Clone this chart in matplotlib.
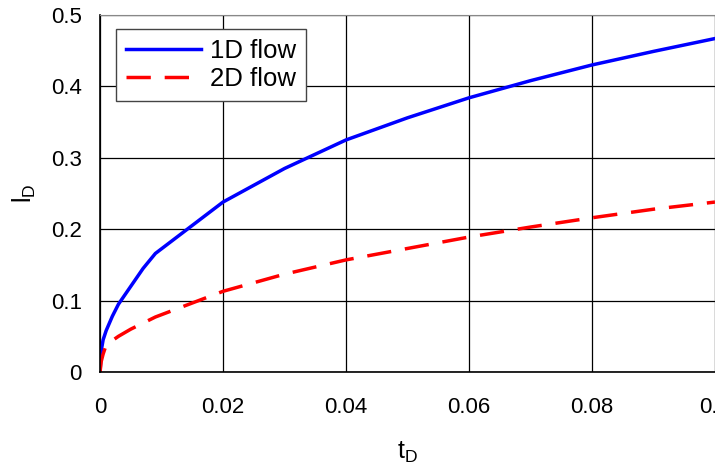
import matplotlib
matplotlib.use("Agg")
import matplotlib.pyplot as plt

plt.rcParams['font.family'] = ['Liberation Sans', 'DejaVu Sans']
plt.rcParams['mathtext.default'] = 'regular'

# 1D flow curve
t_1d = [0, 0.0002, 0.0005, 0.001, 0.002, 0.003, 0.005, 0.007, 0.009,
        0.02, 0.03, 0.04, 0.05, 0.06, 0.07, 0.08, 0.09, 0.1]
l_1d = [0, 0.03, 0.045, 0.058, 0.078, 0.095, 0.12, 0.145, 0.166,
        0.238, 0.285, 0.325, 0.356, 0.384, 0.408, 0.43, 0.449, 0.467]

# 2D flow curve
t_2d = [0, 0.0002, 0.0005, 0.001, 0.003, 0.005, 0.009,
        0.02, 0.03, 0.04, 0.05, 0.06, 0.07, 0.08, 0.09, 0.1]
l_2d = [0, 0.015, 0.025, 0.038, 0.05, 0.06, 0.077,
        0.113, 0.137, 0.157, 0.173, 0.189, 0.203, 0.216, 0.228, 0.238]

xticks = [0, 0.02, 0.04, 0.06, 0.08, 0.1]
xlabels = ['0', '0.02', '0.04', '0.06', '0.08', '0.1']
yticks = [0, 0.1, 0.2, 0.3, 0.4, 0.5]
ylabels = ['0', '0.1', '0.2', '0.3', '0.4', '0.5']

fig = plt.figure(figsize=(7.15, 4.71), dpi=100)
ax = fig.add_axes([0.1399, 0.2102, 0.8601, 0.758])

ax.plot(t_1d, l_1d, color='#0000ff', lw=2.5, label='1D flow')
ax.plot(t_2d, l_2d, color='#ff0000', lw=2.5, linestyle=(0, (7, 4)), label='2D flow')

ax.set_xlim(0, 0.1)
ax.set_ylim(0, 0.5)
ax.set_xticks(xticks)
ax.set_xticklabels(xlabels)
ax.set_yticks(yticks)
ax.set_yticklabels(ylabels)
ax.tick_params(length=0, labelsize=16)
ax.tick_params(axis='x', pad=18)
ax.tick_params(axis='y', pad=13)
ax.grid(True, color='black', lw=0.9)
ax.set_axisbelow(True)

for s in ['top', 'right']:
    ax.spines[s].set_color('#888888')
for s in ['left', 'bottom']:
    ax.spines[s].set_color('black')
    ax.spines[s].set_linewidth(1.2)

ax.set_xlabel('t$_D$', fontsize=18, labelpad=16)
ax.set_ylabel('l$_D$', fontsize=18, labelpad=9)

leg = ax.legend(loc='upper left', bbox_to_anchor=(0.026, 0.962), fontsize=18.5,
                frameon=True, fancybox=False, edgecolor='#444444', framealpha=1,
                handlelength=2.9, handletextpad=0.35, borderaxespad=0,
                labelspacing=0.15, borderpad=0.4)
leg.get_frame().set_linewidth(1.0)

fig.savefig('out.png', dpi=100)
